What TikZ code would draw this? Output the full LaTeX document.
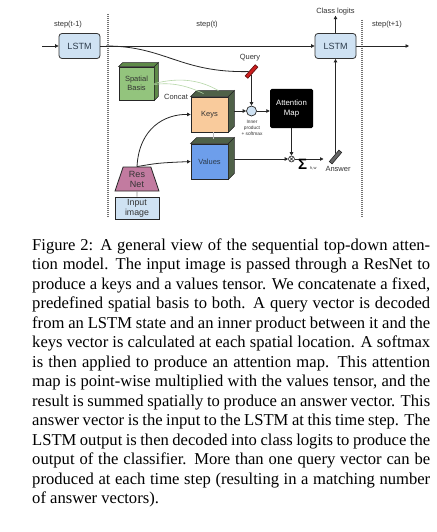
\documentclass[tikz,border=0pt]{standalone}
\usepackage{fontspec}
\setmainfont{Liberation Serif}
\setsansfont{Liberation Sans}
\usetikzlibrary{arrows.meta,shapes.geometric}
\definecolor{lstmblue}{HTML}{CFE2F3}
\definecolor{basisgreen}{HTML}{93C47D}
\definecolor{basisdark}{HTML}{5E8A48}
\definecolor{keysorange}{HTML}{F9CB9C}
\definecolor{valuesblue}{HTML}{6D9EEB}
\definecolor{resnetpink}{HTML}{C27BA0}
\definecolor{cubedark}{HTML}{4F6148}
\definecolor{txtgray}{HTML}{333333}
\definecolor{txtblue}{HTML}{2B3A4A}
\definecolor{queryred}{HTML}{CC1F1F}
\definecolor{querydark}{HTML}{5A0A0A}
\definecolor{concatgreen}{HTML}{B6D7A8}
\newcommand\cubefaces[3]{% node, depth, colour
  \path[fill=#3, draw=black!85, line width=0.6pt] (#1.north west) -- ++(#2,-#2) -- ([shift={(#2,-#2)}]#1.north east) -- (#1.north east) -- cycle;
  \path[fill=#3, draw=black!85, line width=0.6pt] (#1.north east) -- ++(#2,-#2) -- ([shift={(#2,-#2)}]#1.south east) -- (#1.south east) -- cycle;}
\begin{document}
\begin{tikzpicture}[x=1pt,y=-1pt,
  lbl/.style={font=\sffamily\fontsize{7.5}{9}\selectfont, text=txtgray, inner sep=0pt},
  tiny/.style={font=\sffamily\fontsize{4.8}{6.2}\selectfont, text=txtgray, inner sep=0pt, align=center},
  lstmbox/.style={draw=black!80, line width=0.8pt, rounded corners=3pt, fill=lstmblue, minimum width=41pt, minimum height=25pt, inner sep=0pt, font=\sffamily\fontsize{9}{10}\selectfont, text=txtblue},
  arr/.style={draw=black!85, line width=0.8pt, -{Triangle[length=3.5pt,width=3.5pt]}},
  ln/.style={draw=black!85, line width=0.8pt},
  facebox/.style={draw=black!85, line width=0.8pt, minimum width=37pt, minimum height=35pt, inner sep=0pt, align=center, font=\sffamily\fontsize{7.5}{9}\selectfont, text=txtgray},
  sepline/.style={draw=black!55, line width=1.2pt, dash pattern=on 1pt off 1pt},
  capline/.style={anchor=base west, inner sep=0pt, font=\fontsize{16.6}{19.5}\selectfont},
]
\useasboundingbox[fill=white] (0,0) rectangle (436,532);

% separators
\draw[sepline] (108,14) -- (108,218);
\draw[sepline] (362,20) -- (362,218);

% step labels
\node[lbl] (s1) at (68,25) {step(t-1)};
\node[lbl] (s2) at (207,25) {step(t)};
\node[lbl] (s3) at (387,25) {step(t+1)};
\node[lbl] (logits) at (335.5,12) {Class logits};

% LSTMs
\node[lstmbox] (lstm1) at (79.5,46) {LSTM};
\node[lstmbox] (lstm2) at (335.5,46) {LSTM};
\coordinate (in) at (42,46);
\coordinate (out) at (409,46);
\coordinate (branch) at (106,46);
\draw[arr] (in) -- (lstm1);
\draw[arr] (lstm1) -- (lstm2);
\draw[arr] (lstm2) -- (out);
\draw[arr] (lstm2) -- (logits);

% spatial basis
\node[facebox, fill=basisgreen, minimum width=35pt, minimum height=33pt, draw=black!85] (basis) at (136.5,83.5) {Spatial\\Basis};
\cubefaces{basis}{4}{basisdark}

% keys and values cubes
\node[facebox, fill=keysorange] (keys) at (209.5,114.5) {Keys};
\cubefaces{keys}{6}{cubedark}
\node[facebox, fill=valuesblue, text=txtblue] (values) at (209.5,161.5) {Values};
\cubefaces{values}{6}{cubedark}
\draw[draw=black!25, line width=0.6pt] ([xshift=4pt]keys.south) -- ([xshift=4pt,yshift=5pt]values.north);

% concat lines
\draw[draw=concatgreen, line width=0.6pt] (basis.east) .. controls (180,77) and (200,80) .. ([shift={(9,-6)}]keys.north);
\draw[draw=concatgreen, line width=0.6pt] ([yshift=-1pt]basis.east) .. controls (172,82) and (188,86) .. ([shift={(-6,-3)}]keys.north);
\node[lbl] (concat) at (176,97) {Concat};

% resnet and input
\node[trapezium, trapezium angle=74, trapezium stretches=true, minimum width=44pt, minimum height=24pt, inner sep=0pt, fill=resnetpink, draw=black!85, line width=0.8pt, align=center, font=\sffamily\fontsize{9}{10}\selectfont, text=txtgray] (resnet) at (137,179) {Res\\Net};
\node[draw=black!85, line width=0.8pt, fill=lstmblue, minimum width=44pt, minimum height=22pt, inner sep=0pt, align=center, font=\sffamily\fontsize{8.8}{10}\selectfont, text=txtgray] (input) at (137,208) {Input\\image};
\draw[draw=black!45, line width=0.8pt] (resnet.south) -- (input.north);
\draw[arr] (resnet.north) .. controls (139,128) and (165,114) .. (keys.west);
\draw[arr] (resnet.north) .. controls (158,163) .. (values.west);

% query
\node[rectangle, rotate=48, minimum width=15pt, minimum height=3.6pt, inner sep=0pt, fill=queryred, draw=querydark, line width=0.6pt] (query) at (251.5,71.5) {};
\node[lbl] (querylbl) at (250,58) {Query};
\draw[ln] (branch) .. controls (165,46) and (180,73) .. (query);

% inner product
\node[circle, minimum size=10pt, inner sep=0pt, fill=lstmblue, draw=black!85, line width=0.7pt] (ip) at (251.5,111) {};
\node[tiny] (iplbl) at (252,128) {Inner\\product\\+ softmax};
\draw[arr] (query) -- (ip);
\draw[arr] ([xshift=6pt]keys.east |- ip) -- (ip);

% attention map
\node[rectangle, rounded corners=1.5pt, fill=black, minimum width=43pt, minimum height=39pt, inner sep=0pt, align=center, font=\sffamily\fontsize{7.8}{9.5}\selectfont, text=white] (attn) at (291.5,108.5) {Attention\\Map};
\draw[arr] (ip) -- (attn.west |- ip);

% multiply
\node[circle, minimum size=6pt, inner sep=0pt, draw=black!85, line width=0.6pt, fill=white,
  path picture={\draw[black!85, line width=0.5pt] (path picture bounding box.north west) -- (path picture bounding box.south east) (path picture bounding box.north east) -- (path picture bounding box.south west);}] (mult) at (291.5,159) {};
\draw[arr] (attn.south -| mult) -- (mult);
\draw[arr] ([xshift=6pt]values.east |- mult) -- (mult);

% answer
\node[rectangle, rotate=50, minimum width=15pt, minimum height=3.6pt, inner sep=0pt, fill=black!60, draw=black!85, line width=0.6pt] (answer) at (335.5,157) {};
\node[lbl] (anslbl) at (338,169) {Answer};
\draw[arr] (mult) -- ([xshift=-12pt]answer.center |- mult);
\draw[arr] (answer) -- (lstm2.south);
\node[inner sep=0pt, font=\sffamily\bfseries\fontsize{15}{15}\selectfont, text=black] (sigma) at (302.5,164) {Σ};
\node[inner sep=0pt, font=\sffamily\fontsize{4}{4}\selectfont, text=txtgray, anchor=west] (hw) at (310,168) {h,w};

% caption
\node[capline] (c1) at (32,250) {\makebox[398pt][s]{Figure 2: A general view of the sequential top-down atten-}};
\node[capline] (c2) at (32,269.5) {\makebox[398pt][s]{tion model. The input image is passed through a ResNet to}};
\node[capline] (c3) at (32,289) {\makebox[398pt][s]{produce a keys and a values tensor. We concatenate a fixed,}};
\node[capline] (c4) at (32,308.5) {\makebox[398pt][s]{predefined spatial basis to both. A query vector is decoded}};
\node[capline] (c5) at (32,328) {\makebox[398pt][s]{from an LSTM state and an inner product between it and the}};
\node[capline] (c6) at (32,347.5) {\makebox[398pt][s]{keys vector is calculated at each spatial location. A softmax}};
\node[capline] (c7) at (32,367) {\makebox[398pt][s]{is then applied to produce an attention map. This attention}};
\node[capline] (c8) at (32,386.5) {\makebox[398pt][s]{map is point-wise multiplied with the values tensor, and the}};
\node[capline] (c9) at (32,406) {\makebox[398pt][s]{result is summed spatially to produce an answer vector. This}};
\node[capline] (c10) at (32,425.5) {\makebox[398pt][s]{answer vector is the input to the LSTM at this time step. The}};
\node[capline] (c11) at (32,445) {\makebox[398pt][s]{LSTM output is then decoded into class logits to produce the}};
\node[capline] (c12) at (32,464.5) {\makebox[398pt][s]{output of the classifier. More than one query vector can be}};
\node[capline] (c13) at (32,484) {\makebox[398pt][s]{produced at each time step (resulting in a matching number}};
\node[capline] (c14) at (32,503.5) {of answer vectors).};
\end{tikzpicture}
\end{document}
